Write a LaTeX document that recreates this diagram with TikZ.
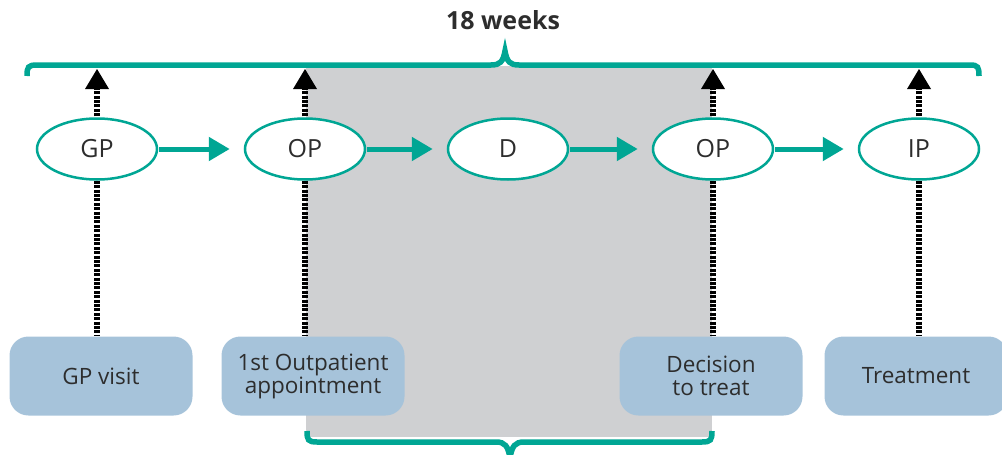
\documentclass[tikz,border=0pt]{standalone}
\usepackage{fontspec}
\setmainfont{Open Sans}
\usetikzlibrary{shapes.geometric,arrows.meta}
\definecolor{tealc}{RGB}{0,166,148}
\definecolor{graybg}{RGB}{207,208,210}
\definecolor{boxblue}{RGB}{166,195,218}
\definecolor{txt}{RGB}{45,45,45}
\begin{document}
\begin{tikzpicture}[x=1pt,y=-1pt,
  stage/.style={ellipse, draw=tealc, line width=2.5pt, fill=white, minimum width=120pt, minimum height=61pt, inner sep=0pt, font=\fontsize{25}{28}\selectfont, text=txt},
  event/.style={rounded corners=19pt, fill=boxblue, minimum width=183pt, minimum height=79pt, inner sep=0pt, align=center, font=\fontsize{22.5}{23}\selectfont, text=txt},
  flow/.style={draw=tealc, line width=5pt, -{Triangle[length=21pt,width=23pt]}, shorten >=14pt, shorten <=1pt},
  link/.style={draw=black, line width=6pt, dash pattern=on 3pt off 1.4pt},
  brace/.style={draw=tealc, line width=5.5pt, line cap=butt}]
\useasboundingbox (0,0) rectangle (1002,455);
% grey period
\fill[graybg] (306,66) rectangle (712,437);
% title
\node[font=\bfseries\fontsize{25}{28}\selectfont, text=txt] (title) at (503,20) {18 weeks};
% top brace
\draw[brace] (27,76) .. controls (27,67) and (28,65) .. (37,65) -- (491,65)
  .. controls (500,65) and (503,62) .. (505,51)
  .. controls (507,62) and (510,65) .. (519,65) -- (970,65)
  .. controls (978,65) and (979,67) .. (979,76);
% bottom brace
\draw[brace] (307,431) .. controls (307,440) and (308,442) .. (317,442) -- (496,442)
  .. controls (505,442) and (508,446) .. (510,458)
  .. controls (512,446) and (515,442) .. (524,442) -- (702,442)
  .. controls (711,442) and (712,440) .. (712,431);
% stages
\node[stage] (gp) at (97,149) {GP};
\node[stage] (op1) at (305,149) {OP};
\node[stage] (d) at (508,149) {D};
\node[stage] (op2) at (713,149) {OP};
\node[stage] (ip) at (919,149) {IP};
% events
\node[event] (b1) at (101,376) {GP visit};
\node[event] (b2) at (313,376) {1st Outpatient\\appointment};
\node[event] (b3) at (711,376) {Decision\\to treat};
\node[event] (b4) at (916,376) {Treatment};
% brace anchor points
\coordinate (t1) at (97,69);
\coordinate (t2) at (305,69);
\coordinate (t3) at (713,69);
\coordinate (t4) at (919,69);
% dotted links
\foreach \s/\b/\t in {gp/b1/t1, op1/b2/t2, op2/b3/t3, ip/b4/t4}{
  \draw[link] (\s.south) -- (\s.south |- \b.north);
  \draw[link] ([yshift=1pt]\s.north) -- ([yshift=-18pt]\t);
  \fill (\t) -- ++(-12,20) -- ++(24,0) -- cycle;
}
% flow arrows
\draw[flow] (gp) -- (op1);
\draw[flow] (op1) -- (d);
\draw[flow] (d) -- (op2);
\draw[flow] (op2) -- (ip);
\end{tikzpicture}
\end{document}
